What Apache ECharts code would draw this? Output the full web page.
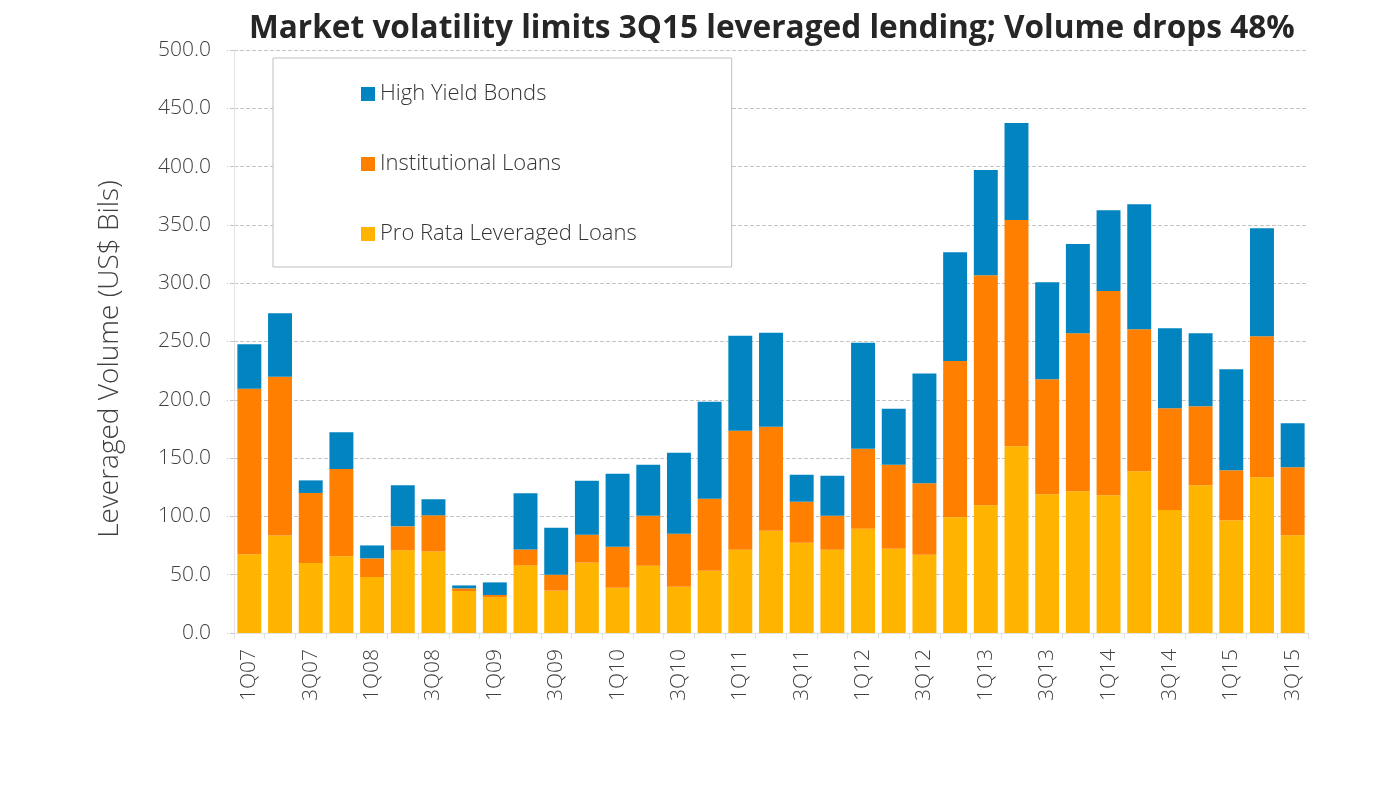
<!DOCTYPE html>
<html>
<head>
<meta charset="utf-8">
<title>Leveraged lending volume</title>
<script src="https://cdn.jsdelivr.net/npm/echarts@6/dist/echarts.min.js"></script>
<style>
  html, body { margin: 0; padding: 0; background: #fff; }
  #main { width: 1375px; height: 786px; }
</style>
</head>
<body>
<div id="main"></div>
<script>
// quarters 1Q07 - 3Q15
var quarters = [
    '1Q07', '2Q07', '3Q07', '4Q07', '1Q08', '2Q08', '3Q08', '4Q08',
    '1Q09', '2Q09', '3Q09', '4Q09', '1Q10', '2Q10', '3Q10', '4Q10',
    '1Q11', '2Q11', '3Q11', '4Q11', '1Q12', '2Q12', '3Q12', '4Q12',
    '1Q13', '2Q13', '3Q13', '4Q13', '1Q14', '2Q14', '3Q14', '4Q14',
    '1Q15', '2Q15', '3Q15'
];

// US$ Bils
var proRata = [
    67.5, 83.7, 60.0, 65.8, 48.0, 70.9, 70.0, 36.0,
    30.8, 58.0, 36.3, 60.3, 38.9, 57.7, 39.7, 53.4,
    71.4, 87.7, 77.4, 71.4, 89.4, 72.3, 67.2, 99.3,
    109.5, 160.2, 119.0, 121.6, 118.2, 138.7, 105.4, 126.8,
    96.7, 133.5, 83.9
];
var institutional = [
    141.9, 136.0, 60.1, 74.8, 16.0, 20.6, 30.9, 2.3,
    1.8, 13.7, 13.7, 24.0, 35.1, 42.9, 45.4, 61.7,
    102.0, 89.2, 35.2, 29.2, 68.6, 72.0, 61.2, 134.0,
    197.4, 194.0, 98.6, 135.4, 175.1, 121.8, 87.3, 67.6,
    42.9, 120.9, 58.3
];
var highYield = [
    38.3, 54.6, 10.8, 31.6, 11.1, 35.2, 13.8, 2.5,
    10.8, 48.1, 40.3, 46.3, 62.6, 43.7, 69.5, 83.2,
    81.5, 80.5, 23.1, 34.3, 90.9, 48.0, 94.1, 93.3,
    90.2, 83.2, 83.2, 76.6, 69.3, 107.3, 68.7, 62.6,
    86.7, 92.8, 37.7
];

var yTicks = { min: 0, max: 500, interval: 50 };

var chart = echarts.init(document.getElementById('main'));

var font = '"Open Sans", Lato, sans-serif';

function barSeries(name, values, color) {
    return {
        name: name,
        type: 'bar',
        stack: 'volume',
        barCategoryGap: '22%',
        itemStyle: { color: color },
        data: values
    };
}

var option = {
    animation: false,
    textStyle: { fontFamily: font },
    title: {
        text: 'Market volatility limits 3Q15 leveraged lending; Volume drops 48%',
        left: 244,
        top: 8,
        textStyle: {
            fontFamily: font,
            fontSize: 31.6,
            fontWeight: 'bold',
            color: '#262626'
        }
    },
    legend: {
        orient: 'vertical',
        left: 273,
        top: 58,
        padding: [25, 95, 22, 88],
        itemGap: 48,
        itemWidth: 14,
        itemHeight: 14,
        icon: 'rect',
        backgroundColor: '#fff',
        borderColor: '#bfbfbf',
        borderWidth: 1,
        data: ['High Yield Bonds', 'Institutional Loans', 'Pro Rata Leveraged Loans'],
        textStyle: {
            fontFamily: font,
            fontSize: 22,
            fontWeight: 300,
            color: '#333'
        }
    },
    grid: {
        left: 234,
        right: 67,
        top: 50,
        bottom: 153,
        containLabel: false
    },
    xAxis: {
        type: 'category',
        data: quarters,
        axisLine: { lineStyle: { color: '#e3e3e3', width: 1 } },
        axisTick: { show: true, interval: 0, length: 6, lineStyle: { color: '#e3e3e3' } },
        axisLabel: {
            interval: 1,
            rotate: 90,
            margin: 16,
            fontSize: 21,
            fontWeight: 300,
            color: '#404040'
        }
    },
    yAxis: {
        type: 'value',
        min: yTicks.min,
        max: yTicks.max,
        interval: yTicks.interval,
        name: 'Leveraged Volume (US$ Bils)',
        nameLocation: 'middle',
        nameGap: 110,
        nameTextStyle: {
            fontSize: 28,
            fontWeight: 300,
            color: '#404040',
            padding: [0, 35, 0, 0]
        },
        axisLine: { show: true, lineStyle: { color: '#e3e3e3' } },
        axisTick: { show: true, length: 7, lineStyle: { color: '#c4c4c4', type: 'dashed' } },
        axisLabel: {
            margin: 23,
            fontSize: 21,
            fontWeight: 300,
            color: '#404040',
            formatter: function(v) { return v.toFixed(1); }
        },
        splitLine: { lineStyle: { color: '#c4c4c4', type: 'dashed' } }
    },
    series: [
        barSeries('Pro Rata Leveraged Loans', proRata, '#FFB400'),
        barSeries('Institutional Loans', institutional, '#FF8000'),
        barSeries('High Yield Bonds', highYield, '#0284C0')
    ]
};

chart.setOption(option);
</script>
</body>
</html>
